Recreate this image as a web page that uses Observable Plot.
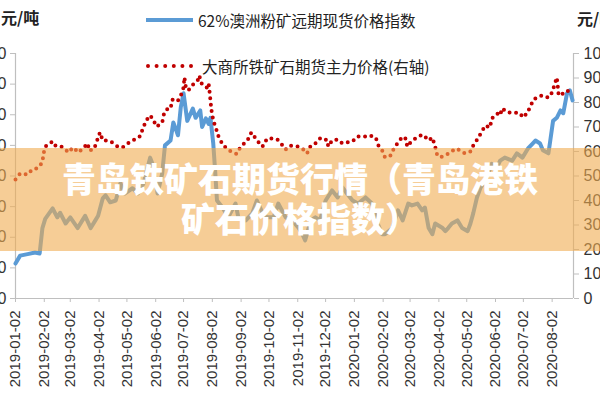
<!DOCTYPE html>
<html>
<head>
<meta charset="utf-8">
<script src="https://cdn.jsdelivr.net/npm/d3@7"></script>
<script src="https://cdn.jsdelivr.net/npm/@observablehq/plot@0.6"></script>
<style>
  html, body { margin: 0; padding: 0; background: #fff; }
  body { width: 600px; height: 400px; overflow: hidden; position: relative; font-family: "Liberation Sans", Arial, sans-serif; }
  #chart { position: absolute; left: 0; top: 0; }
  .unit { position: absolute; font-family: "Noto Sans CJK SC", sans-serif; font-size: 16px; font-weight: 600; color: #222; white-space: nowrap; }
  .legend { position: absolute; left: 146px; font-family: "Noto Sans CJK SC", sans-serif; font-size: 15.5px; color: #222; white-space: nowrap; display: flex; align-items: center; }
  .legend svg { margin-right: 4px; }
  #band { position: absolute; left: 0; top: 148px; width: 600px; height: 103px; background: rgba(240,172,80,0.6); }
  #title { position: absolute; left: 0; top: 158px; width: 600px; text-align: center; color: #fff; font-family: "Noto Sans CJK SC", sans-serif; font-weight: 900; font-size: 34px; line-height: 40px; }
</style>
</head>
<body>
<div id="chart"></div>
<div class="unit" style="left:1px; top:5px;">元/吨</div>
<div class="unit" style="left:577px; top:6px;">元/吨</div>
<div class="legend" style="top:8px;"><svg width="48" height="24"><line x1="0" y1="12" x2="47" y2="12" stroke="#5B9BD5" stroke-width="4"/></svg><span id="leg1"></span></div>
<div class="legend" style="top:54px;"><svg width="52" height="24"><line x1="2" y1="12" x2="50" y2="12" stroke="#C00000" stroke-width="4" stroke-linecap="round" stroke-dasharray="0 8.6"/></svg><span id="leg2"></span></div>
<div id="band"></div>
<div id="title">青岛铁矿石期货行情（青岛港铁<br>矿石价格指数）</div>
<script>
// ---- data ----
const seriesNames = ["62%澳洲粉矿远期现货价格指数", "大商所铁矿石期货主力价格(右轴)"];
const xTickLabels = ["2019-01-02","2019-02-02","2019-03-02","2019-04-02","2019-05-02","2019-06-02","2019-07-02","2019-08-02","2019-09-02","2019-10-02","2019-11-02","2019-12-02","2020-01-02","2020-02-02","2020-03-02","2020-04-02","2020-05-02","2020-06-02","2020-07-02","2020-08-02"];
const leftTicks = [60, 70, 80, 90, 100, 110, 120, 130, 140];
const rightTicks = [0, 100, 200, 300, 400, 500, 600, 700, 800, 900, 1000];

const indexDates = ["2019-01-02","2019-01-07","2019-01-15","2019-01-23","2019-01-28","2019-01-31","2019-02-03","2019-02-11","2019-02-16","2019-02-19","2019-02-25","2019-03-02","2019-03-10","2019-03-15","2019-03-18","2019-03-24","2019-03-29","2019-04-01","2019-04-06","2019-04-09","2019-04-14","2019-04-20","2019-04-25","2019-04-30","2019-05-08","2019-05-14","2019-05-20","2019-05-27","2019-05-31","2019-06-04","2019-06-09","2019-06-12","2019-06-18","2019-06-21","2019-06-26","2019-06-29","2019-07-02","2019-07-06","2019-07-12","2019-07-15","2019-07-20","2019-07-22","2019-07-26","2019-07-29","2019-07-31","2019-08-03","2019-08-05","2019-08-07","2019-08-13","2019-08-19","2019-08-27","2019-08-30","2019-09-07","2019-09-14","2019-09-19","2019-09-25","2019-09-30","2019-10-07","2019-10-12","2019-10-20","2019-10-27","2019-11-03","2019-11-07","2019-11-10","2019-11-16","2019-11-21","2019-11-26","2019-12-02","2019-12-09","2019-12-15","2019-12-20","2019-12-25","2019-12-31","2020-01-06","2020-01-14","2020-01-21","2020-01-27","2020-02-01","2020-02-04","2020-02-12","2020-02-18","2020-02-23","2020-02-29","2020-03-04","2020-03-10","2020-03-15","2020-03-18","2020-03-22","2020-03-26","2020-03-29","2020-04-06","2020-04-09","2020-04-12","2020-04-16","2020-04-22","2020-04-27","2020-05-03","2020-05-06","2020-05-09","2020-05-13","2020-05-17","2020-05-22","2020-05-25","2020-05-29","2020-06-02","2020-06-07","2020-06-12","2020-06-20","2020-06-25","2020-07-01","2020-07-07","2020-07-12","2020-07-15","2020-07-20","2020-07-23","2020-07-29","2020-07-31","2020-08-03","2020-08-07","2020-08-11","2020-08-14","2020-08-18","2020-08-21","2020-08-24"];
const indexValues = [71.4,74,74.5,75,74.7,83,86,89.4,86.5,88,84.5,86.5,83,85.5,87,83,85.5,87,92.7,93.7,91.4,92,97.6,94.3,96,94.3,97.6,106,102.8,94.3,100.8,110,111.6,117.5,113.3,122.4,127,118,122,119,121.4,116,118.8,117,119,110.6,101.8,92,89.7,86.5,91,86.5,85.5,87.8,92,88,86.5,86.5,91,86.5,85.5,83,81,79,85.5,86.5,85.5,92,95.3,93,96.3,94.3,92,91,93,91,84.5,81,81,83,88.8,85.5,91,90.4,91,88.8,89.7,83,81,84.5,83,82,83,84.5,85.5,83,82,84.5,87.8,93,96.3,98.6,100.8,104,101.8,105,106,105,107.4,106,109,110.6,111.6,110.6,108.4,107.4,111.6,118,119,121.4,120.5,127,128,124.7];

const futuresDates = ["2019-01-02","2019-01-07","2019-01-15","2019-01-20","2019-01-25","2019-01-31","2019-02-01","2019-02-03","2019-02-11","2019-02-14","2019-02-19","2019-02-25","2019-02-28","2019-03-05","2019-03-11","2019-03-15","2019-03-21","2019-03-22","2019-03-27","2019-03-29","2019-04-01","2019-04-03","2019-04-06","2019-04-11","2019-04-16","2019-04-22","2019-04-27","2019-05-03","2019-05-08","2019-05-13","2019-05-17","2019-05-19","2019-05-22","2019-05-26","2019-05-29","2019-06-03","2019-06-09","2019-06-11","2019-06-15","2019-06-18","2019-06-20","2019-06-23","2019-06-26","2019-06-30","2019-07-02","2019-07-03","2019-07-04","2019-07-07","2019-07-12","2019-07-15","2019-07-18","2019-07-19","2019-07-21","2019-07-24","2019-07-27","2019-07-29","2019-07-30","2019-07-31","2019-08-01","2019-08-03","2019-08-06","2019-08-09","2019-08-12","2019-08-17","2019-08-23","2019-08-28","2019-09-01","2019-09-07","2019-09-10","2019-09-13","2019-09-17","2019-09-21","2019-09-25","2019-09-30","2019-10-07","2019-10-11","2019-10-15","2019-10-20","2019-10-25","2019-11-02","2019-11-07","2019-11-12","2019-11-16","2019-11-21","2019-11-26","2019-11-30","2019-12-03","2019-12-05","2019-12-09","2019-12-15","2019-12-20","2019-12-25","2019-12-31","2020-01-05","2020-01-11","2020-01-16","2020-01-19","2020-01-25","2020-01-28","2020-02-01","2020-02-04","2020-02-10","2020-02-13","2020-02-18","2020-02-23","2020-02-26","2020-02-28","2020-03-04","2020-03-10","2020-03-15","2020-03-18","2020-03-22","2020-03-26","2020-03-29","2020-03-31","2020-04-03","2020-04-09","2020-04-14","2020-04-20","2020-04-25","2020-04-30","2020-05-06","2020-05-09","2020-05-14","2020-05-19","2020-05-22","2020-05-27","2020-05-29","2020-06-04","2020-06-07","2020-06-09","2020-06-15","2020-06-18","2020-06-23","2020-06-29","2020-07-01","2020-07-06","2020-07-09","2020-07-13","2020-07-18","2020-07-23","2020-07-29","2020-08-02","2020-08-05","2020-08-07","2020-08-08","2020-08-09","2020-08-14","2020-08-18","2020-08-21"];
const futuresValues = [486,510,506,527,531,555,588,620,641,624,624,608,596,616,596,612,633,604,608,624,657,678,645,645,637,620,616,633,645,653,665,694,718,747,739,702,718,755,776,776,812,804,808,837,861,902,869,849,873,882,895,910,880,869,861,878,845,808,770,727,694,657,637,612,598,590,616,640,653,678,657,637,620,653,653,649,633,608,624,620,612,592,624,633,653,645,649,620,645,649,633,637,641,661,661,661,665,657,624,604,576,584,608,637,661,653,620,645,657,669,661,645,657,620,588,576,584,596,612,604,592,600,624,653,686,706,698,735,755,747,776,759,759,759,755,739,755,780,812,824,829,820,841,878,902,869,829,837,849,841];

// ---- build ----
document.getElementById("leg1").textContent = seriesNames[0];
document.getElementById("leg2").textContent = seriesNames[1];

const parse = d3.utcParse("%Y-%m-%d");
const fmt = d3.utcFormat("%Y-%m-%d");
const indexData = indexDates.map((d, i) => ({date: parse(d), value: indexValues[i]}));
const futuresData = futuresDates.map((d, i) => ({date: parse(d), value: futuresValues[i]}));
const xTicks = xTickLabels.map(parse);
const xDomain = [parse("2019-01-02"), parse("2020-08-25")];
// right axis (0..1000) mapped onto left axis (60..140)
const toLeft = v => 60 + v * 0.08;
const fromLeft = v => String(Math.round((v - 60) / 0.08));

const chart = Plot.plot({
  width: 600,
  height: 400,
  marginLeft: 15,
  marginRight: 27,
  marginTop: 53,
  marginBottom: 102,
  style: {overflow: "visible", fontFamily: "'Liberation Sans', Arial, sans-serif", background: "transparent"},
  x: {type: "utc", domain: xDomain},
  y: {domain: [60, 140]},
  marks: [
    Plot.ruleY([60], {stroke: "#bfbfbf", strokeWidth: 1.2}),
    Plot.ruleX([xDomain[0]], {stroke: "#bfbfbf", strokeWidth: 1.2}),
    Plot.ruleX([xDomain[1]], {stroke: "#bfbfbf", strokeWidth: 1.2}),
    Plot.axisX({ticks: xTicks, tickFormat: fmt, tickRotate: -90, tickSize: 4, tickPadding: 8, fontSize: 15, stroke: "#bfbfbf", fill: "#333", label: null}),
    Plot.axisY({anchor: "left", ticks: leftTicks, tickSize: 5, tickPadding: 4, fontSize: 16, stroke: "#bfbfbf", fill: "#333", label: null}),
    Plot.axisY({anchor: "right", ticks: rightTicks.map(toLeft), tickFormat: fromLeft, tickSize: 5, tickPadding: 5, fontSize: 16, stroke: "#bfbfbf", fill: "#333", label: null}),
    Plot.line(indexData, {x: "date", y: "value", stroke: "#5B9BD5", strokeWidth: 4, strokeLinejoin: "round"}),
    Plot.line(futuresData, {x: "date", y: d => toLeft(d.value), stroke: "#C00000", strokeWidth: 4, strokeLinecap: "round", strokeDasharray: "0 6.5"})
  ]
});
document.getElementById("chart").appendChild(chart);
</script>
</body>
</html>
